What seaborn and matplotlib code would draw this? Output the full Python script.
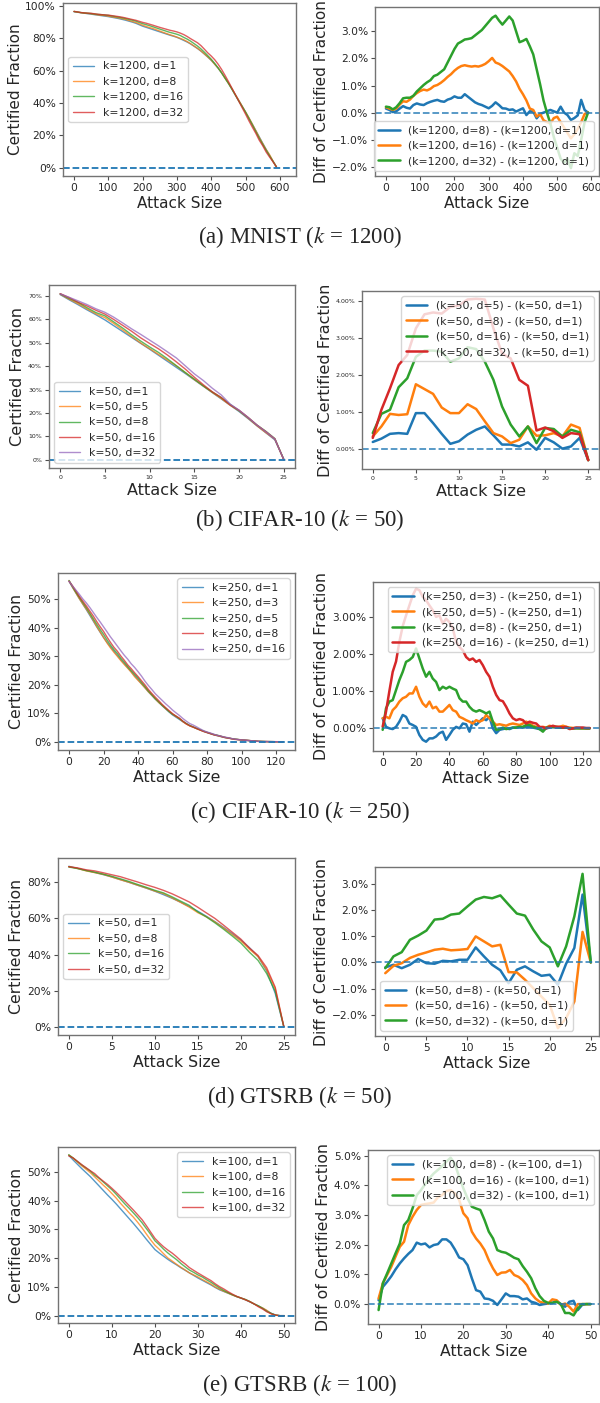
import matplotlib
matplotlib.use("Agg")
import matplotlib.pyplot as plt
from matplotlib.ticker import PercentFormatter, MultipleLocator
import numpy as np
import pandas as pd
import seaborn as sns

# values in percent
# (a) MNIST, k=1200
mnist_x = list(range(0, 600, 10))
mnist_d1 = [96.3, 96.0, 95.7, 95.4, 95.1, 94.8, 94.5, 94.2, 93.9, 93.6,
            93.3, 92.9, 92.5, 92.1, 91.6, 91.1, 90.5, 89.9, 89.2, 88.3,
            87.4, 86.7, 86.0, 85.3, 84.6, 83.9, 83.2, 82.5, 81.8, 81.2,
            80.5, 79.6, 78.6, 77.6, 76.4, 75.0, 73.6, 72.0, 70.2, 68.3,
            66.3, 64.0, 61.5, 58.6, 55.5, 52.2, 48.8, 45.2, 41.6, 38.0,
            34.4, 30.6, 26.8, 22.9, 19.0, 15.1, 11.3, 7.6, 4.0, 0.5]
mnist_diff8 = [0.15, 0.1, 0.02, 0.05, 0.15, 0.24, 0.18, 0.15, 0.28, 0.34,
               0.3, 0.28, 0.35, 0.4, 0.44, 0.47, 0.42, 0.4, 0.48, 0.52,
               0.6, 0.55, 0.55, 0.68, 0.58, 0.48, 0.38, 0.32, 0.28, 0.22,
               0.16, 0.25, 0.38, 0.28, 0.16, 0.15, 0.1, 0.12, 0.04, 0.1,
               0.16, -0.09, 0.05, 0.04, -0.21, -0.05, 0.0, 0.05, 0.1, 0.05,
               0.0, 0.22, 0.0, -0.09, -0.27, -0.2, -0.1, 0.47, 0.1, 0.0]
mnist_diff16 = [0.2, 0.15, 0.1, 0.15, 0.3, 0.42, 0.4, 0.48, 0.62, 0.72,
                0.8, 0.85, 0.82, 0.88, 0.98, 1.02, 1.1, 1.2, 1.32, 1.42,
                1.55, 1.65, 1.72, 1.75, 1.72, 1.7, 1.72, 1.7, 1.74, 1.8,
                1.9, 2.02, 1.85, 1.8, 1.72, 1.62, 1.52, 1.35, 1.15, 0.88,
                0.68, 0.45, 0.15, 0.1, -0.15, -0.05, -0.28, -0.35, -0.4, -0.2,
                -0.15, -0.35, -0.55, -0.75, -0.95, -0.8, -0.6, -0.35, -0.05, 0.0]
mnist_diff32 = [0.22, 0.2, 0.12, 0.2, 0.35, 0.53, 0.55, 0.55, 0.62, 0.78,
                0.9, 1.02, 1.12, 1.2, 1.35, 1.4, 1.5, 1.6, 1.85, 2.1,
                2.35, 2.55, 2.62, 2.7, 2.72, 2.75, 2.85, 2.95, 3.05, 3.2,
                3.35, 3.5, 3.58, 3.4, 3.25, 3.4, 3.55, 3.4, 3.0, 2.6,
                2.65, 2.72, 2.45, 2.15, 1.6, 1.05, 0.45, 0.0, -0.4, -0.9,
                -1.3, -1.7, -1.85, -1.7, -2.05, -1.5, -1.6, -1.0, -0.35, 0.0]

# (b) CIFAR-10, k=50
c50_x = list(range(0, 26))
c50_d1 = [70.5, 68.3, 66.2, 64.0, 61.9, 59.7, 57.2, 54.7, 52.2, 49.7,
          47.2, 44.6, 42.0, 39.4, 36.8, 34.1, 31.4, 28.7, 26.0, 23.3,
          20.6, 17.6, 14.5, 11.5, 8.5, 0.31]
c50_diff5 = [0.18, 0.27, 0.4, 0.42, 0.4, 0.96, 0.96, 0.69, 0.4, 0.13,
             0.2, 0.38, 0.51, 0.6, 0.36, 0.11, 0.11, 0.06, 0.17, -0.03,
             0.29, 0.17, 0.0, 0.06, 0.29, -0.31]
c50_diff8 = [0.33, 0.6, 0.94, 0.91, 0.93, 1.74, 1.61, 1.48, 1.11, 0.96,
             0.96, 1.2, 1.07, 0.74, 0.42, 0.33, 0.15, 0.24, 0.6, 0.35,
             0.36, 0.42, 0.33, 0.65, 0.56, -0.31]
c50_diff16 = [0.42, 0.94, 1.05, 1.66, 1.9, 2.48, 2.65, 2.65, 2.62, 2.35,
              2.44, 2.74, 2.69, 2.35, 1.86, 1.14, 0.65, 0.33, 0.6, 0.15,
              0.56, 0.53, 0.33, 0.51, 0.44, -0.31]
c50_diff32 = [0.29, 1.05, 1.63, 2.26, 2.53, 3.25, 3.63, 3.68, 3.65, 3.83,
              3.87, 4.03, 4.05, 4.03, 3.25, 2.57, 2.44, 1.86, 1.7, 0.49,
              0.57, 0.47, 0.29, 0.42, 0.39, -0.31]

# (c) CIFAR-10, k=250
c250_x = list(range(0, 125, 2))
c250_d1 = [56.2, 54.1, 52.1, 50.1, 48.2, 46.3, 44.3, 42.3, 40.3, 38.4,
           36.5, 34.8, 33.2, 31.7, 30.2, 28.7, 27.3, 25.9, 24.5, 23.1,
           21.7, 20.3, 18.9, 17.5, 16.2, 14.9, 13.8, 12.6, 11.5, 10.4,
           9.4, 8.6, 7.8, 7.0, 6.3, 5.6, 5.1, 4.6, 4.1, 3.6,
           3.2, 2.8, 2.4, 2.1, 1.8, 1.5, 1.3, 1.1, 0.9, 0.75,
           0.6, 0.5, 0.4, 0.3, 0.2, 0.1, 0.08, 0.05, 0.03, 0.02,
           0.0, 0.0, 0.0]
c250_diff3 = [0.27, 0.04, 0.0, -0.02, 0.04, 0.18, 0.36, 0.31, 0.13, 0.09,
              0.04, -0.18, -0.31, -0.36, -0.27, -0.27, -0.22, -0.13, -0.09, -0.31,
              -0.18, -0.04, 0.04, 0.0, 0.13, 0.11, -0.09, 0.18, 0.09, 0.18,
              0.27, 0.22, 0.31, 0.0, -0.13, -0.04, -0.02, 0.0, -0.02, 0.02,
              0.02, 0.04, 0.02, 0.03, 0.04, 0.02, 0.0, -0.02, -0.05, 0.0,
              0.02, 0.03, 0.02, 0.02, 0.02, 0.02, 0.0, 0.0, 0.01, 0.01,
              0.01, 0.0, 0.0]
c250_diff5 = [0.27, 0.31, 0.27, 0.49, 0.58, 0.72, 0.81, 0.85, 0.94, 0.94,
              1.12, 0.85, 0.67, 0.58, 0.72, 0.54, 0.58, 0.45, 0.45, 0.54,
              0.63, 0.49, 0.45, 0.31, 0.27, 0.22, 0.18, 0.13, 0.22, 0.18,
              0.22, 0.36, 0.27, 0.18, 0.09, 0.11, 0.09, 0.07, 0.11, 0.13,
              0.11, 0.09, 0.13, 0.18, 0.13, 0.07, 0.04, 0.02, 0.04, 0.02,
              0.07, 0.04, 0.04, 0.04, 0.07, 0.04, 0.02, 0.01, 0.01, 0.0,
              0.0, 0.0, 0.0]
c250_diff8 = [-0.04, 0.54, 0.72, 0.76, 1.03, 1.3, 1.52, 1.79, 1.84, 1.92,
              2.15, 1.88, 1.61, 1.39, 1.52, 1.34, 1.25, 1.03, 1.12, 1.07,
              1.12, 1.07, 1.03, 0.81, 0.72, 0.72, 0.58, 0.49, 0.45, 0.49,
              0.45, 0.4, 0.45, 0.18, -0.04, -0.02, 0.02, -0.02, 0.0, 0.02,
              0.02, 0.04, 0.04, 0.09, 0.09, 0.04, 0.02, -0.02, -0.09, 0.02,
              0.04, 0.04, 0.04, 0.02, 0.02, 0.02, 0.0, 0.0, 0.0, 0.0,
              0.0, 0.0, 0.0]
c250_diff16 = [0.05, 0.45, 1.0, 1.52, 1.8, 2.33, 2.75, 3.04, 3.31, 3.58,
               3.76, 3.72, 3.54, 3.45, 3.31, 3.18, 3.0, 3.04, 2.82, 2.95,
               2.86, 2.69, 2.33, 2.19, 2.1, 1.92, 1.84, 1.88, 1.79, 1.84,
               1.7, 1.52, 1.39, 1.12, 0.9, 0.76, 0.73, 0.58, 0.4, 0.27,
               0.22, 0.25, 0.22, 0.13, 0.18, 0.15, 0.13, 0.04, 0.03, 0.0,
               0.04, 0.07, 0.04, 0.04, 0.02, 0.04, -0.02, 0.0, 0.02, 0.02,
               0.02, 0.01, 0.01]

# (d) GTSRB, k=50
g50_x = list(range(0, 26))
g50_d1 = [88.9, 87.8, 86.6, 85.5, 84.3, 83.0, 81.5, 80.0, 78.4, 76.8,
          75.1, 73.2, 71.2, 69.0, 66.6, 64.0, 61.2, 58.2, 55.0, 51.6,
          48.0, 43.8, 38.9, 31.0, 18.5, 0.0]
g50_diff8 = [-0.19, -0.09, -0.22, -0.09, 0.13, -0.03, -0.05, 0.06, 0.04, 0.1,
             0.1, 0.57, 0.23, -0.09, -0.3, -0.79, -0.28, -0.15, -0.34, -0.51,
             -0.47, -0.85, -0.05, 0.55, 2.58, 0.0]
g50_diff16 = [-0.41, -0.13, -0.03, 0.17, 0.29, 0.38, 0.48, 0.52, 0.46, 0.48,
              0.51, 0.99, 0.8, 0.61, 0.67, -0.37, -0.38, -0.66, -0.98, -1.3,
              -1.61, -2.5, -2.12, -1.49, 1.16, 0.0]
g50_diff32 = [-0.22, 0.23, 0.39, 0.86, 1.02, 1.21, 1.63, 1.66, 1.82, 1.86,
              2.13, 2.39, 2.49, 2.44, 2.55, 2.2, 1.86, 1.78, 1.25, 0.8,
              0.57, -0.15, 0.61, 1.75, 3.37, 0.0]

# (e) GTSRB, k=100
g100_x = list(range(0, 51))
g100_d1 = [55.8, 54.2, 52.7, 51.2, 49.8, 48.4, 46.8, 45.2, 43.6, 42.0,
           40.5, 38.9, 37.2, 35.5, 33.8, 32.1, 30.3, 28.5, 26.6, 24.8,
           23.0, 21.8, 20.7, 19.6, 18.6, 17.7, 16.7, 15.8, 14.9, 14.0,
           13.1, 12.3, 11.5, 10.7, 9.8, 9.0, 8.4, 7.8, 7.2, 6.6,
           6.1, 5.5, 4.8, 4.1, 3.4, 2.6, 1.7, 0.8, 0.2, 0.0,
           0.0]
g100_diff8 = [0.13, 0.58, 0.75, 0.94, 1.17, 1.37, 1.54, 1.69, 1.82, 2.07,
              2.01, 2.04, 1.91, 1.99, 2.02, 2.18, 2.18, 2.07, 1.84, 1.57,
              1.51, 1.31, 0.87, 0.47, 0.42, 0.19, 0.17, 0.11, -0.03, 0.16,
              0.36, 0.27, 0.27, 0.25, 0.16, 0.19, 0.08, 0.04, -0.03, 0.0,
              0.02, 0.04, 0.11, 0.0, -0.09, 0.08, 0.11, -0.2, -0.03, 0.0,
              0.0]
g100_diff16 = [0.19, 0.7, 0.98, 1.26, 1.6, 1.93, 2.1, 2.66, 2.94, 3.17,
               3.34, 3.37, 3.39, 3.42, 3.6, 3.67, 3.81, 3.84, 3.73, 3.51,
               3.06, 2.89, 2.44, 2.21, 2.04, 1.82, 1.48, 1.2, 0.98, 1.06,
               1.07, 1.15, 0.98, 0.92, 0.81, 0.64, 0.36, 0.19, 0.08, 0.04,
               0.02, 0.16, 0.13, -0.03, 0.02, -0.09, -0.25, 0.0, 0.0, 0.0,
               0.0]
g100_diff32 = [-0.2, 0.7, 1.03, 1.37, 1.71, 2.04, 2.66, 2.83, 3.22, 3.67,
               3.84, 4.04, 4.24, 4.4, 4.52, 4.65, 4.8, 4.93, 4.72, 4.29,
               3.9, 3.56, 3.28, 3.22, 3.17, 2.83, 2.44, 2.21, 1.82, 1.76,
               1.73, 1.65, 1.56, 1.51, 1.28, 1.09, 0.87, 0.53, 0.27, 0.11,
               0.04, 0.04, 0.08, 0.0, -0.3, -0.3, -0.38, -0.15, 0.0, 0.0,
               0.0]

sns.set_theme(style="ticks")
plt.rcParams["font.family"] = ["DejaVu Sans"]
plt.rcParams["mathtext.fontset"] = "stix"
plt.rcParams["axes.edgecolor"] = "0.45"
plt.rcParams["legend.framealpha"] = 0.8
plt.rcParams["legend.edgecolor"] = "0.8"
colors = sns.color_palette("tab10")

W, H = 600, 1403
fig = plt.figure(figsize=(W / 100, H / 100), dpi=100)


def box(l, t, r, b):
    return [l / W, 1 - b / H, (r - l) / W, (b - t) / H]


panels = [
    dict(x=mnist_x, base=mnist_d1, diffs=[mnist_diff8, mnist_diff16, mnist_diff32],
         k=1200, ds=[1, 8, 16, 32], cap=r"(a) MNIST ($k$ = 1200)", cap_y=237,
         lbox=(63, 3, 296, 176), rbox=(375, 7, 599, 176),
         lxlim=(-32, 647), lylim=(-5.1, 101.7), rxlim=(-32, 622), rylim=(-2.34, 3.9),
         lstep=20, rstep=1, rdec=1, xstep=100, lloc="center left", rloc="lower right",
         tick=7.7, lab=11),
    dict(x=c50_x, base=c50_d1, diffs=[c50_diff5, c50_diff8, c50_diff16, c50_diff32],
         k=50, ds=[1, 5, 8, 16, 32], cap=r"(b) CIFAR-10 ($k$ = 50)", cap_y=520,
         lbox=(49, 285, 295, 468), rbox=(362, 291, 599, 469),
         lxlim=(-1.25, 26.25), lylim=(-3.5, 74.6), rxlim=(-1.25, 26.25), rylim=(-0.55, 4.26),
         lstep=10, rstep=1, rdec=2, xstep=5, lloc="lower left", rloc="upper right",
         tick=4.5, lab=11.6),
    dict(x=c250_x, base=c250_d1, diffs=[c250_diff3, c250_diff5, c250_diff8, c250_diff16],
         k=250, ds=[1, 3, 5, 8, 16], cap=r"(c) CIFAR-10 ($k$ = 250)", cap_y=812,
         lbox=(58, 573, 295, 750), rbox=(373, 582, 599, 751),
         lxlim=(-6.4, 131), lylim=(-2.9, 59.1), rxlim=(-5.8, 129.6), rylim=(-0.61, 3.94),
         lstep=10, rstep=1, rdec=2, xstep=20, lloc="upper right", rloc="upper right",
         tick=7.7, lab=11.3),
    dict(x=g50_x, base=g50_d1, diffs=[g50_diff8, g50_diff16, g50_diff32],
         k=50, ds=[1, 8, 16, 32], cap=r"(d) GTSRB ($k$ = 50)", cap_y=1097,
         lbox=(58, 858, 295, 1035), rbox=(375, 867, 599, 1036),
         lxlim=(-1.25, 26.3), lylim=(-4.6, 93.5), rxlim=(-1.25, 26.0), rylim=(-2.8, 3.63),
         lstep=20, rstep=1, rdec=1, xstep=5, lloc="center left", rloc="lower left",
         tick=7.7, lab=11.3),
    dict(x=g100_x, base=g100_d1, diffs=[g100_diff8, g100_diff16, g100_diff32],
         k=100, ds=[1, 8, 16, 32], cap=r"(e) GTSRB ($k$ = 100)", cap_y=1385,
         lbox=(58, 1147, 295, 1323), rbox=(368, 1150, 599, 1324),
         lxlim=(-2.5, 52.5), lylim=(-2.55, 58.7), rxlim=(-2.5, 52.0), rylim=(-0.67, 5.19),
         lstep=10, rstep=1, rdec=1, xstep=10, lloc="upper right", rloc="upper right",
         tick=7.7, lab=11.3),
]

for p in panels:
    x = np.array(p["x"])
    base = np.array(p["base"])
    k = p["k"]
    axl = fig.add_axes(box(*p["lbox"]))
    axr = fig.add_axes(box(*p["rbox"]))

    # left: certified fraction for every d (d=1 plus the read differences)
    curves = [base] + [base + np.array(d) for d in p["diffs"]]
    for i, (d, yv) in enumerate(zip(p["ds"], curves)):
        sns.lineplot(x=x, y=yv, ax=axl, color=colors[i], lw=1.0, alpha=0.75,
                     label=f"k={k}, d={d}")
    axl.axhline(0, ls="--", color=colors[0], lw=1.3)
    axl.set_xlim(*p["lxlim"])
    axl.set_ylim(*p["lylim"])
    axl.yaxis.set_major_locator(MultipleLocator(p["lstep"]))
    axl.yaxis.set_major_formatter(PercentFormatter(100, decimals=0))
    axl.xaxis.set_major_locator(MultipleLocator(p["xstep"]))
    axl.set_xlabel("Attack Size", fontsize=p["lab"], labelpad=2)
    axl.set_ylabel("Certified Fraction", fontsize=p["lab"], labelpad=2)
    axl.legend(loc=p["lloc"], fontsize=7.8)

    # right: differences against d=1
    for i, (d, yv) in enumerate(zip(p["ds"][1:], p["diffs"])):
        sns.lineplot(x=x, y=np.array(yv), ax=axr, color=colors[i], lw=1.8,
                     label=f"(k={k}, d={d}) - (k={k}, d=1)")
    axr.axhline(0, ls="--", color=colors[0], lw=1.3, alpha=0.8)
    axr.set_xlim(*p["rxlim"])
    axr.set_ylim(*p["rylim"])
    axr.yaxis.set_major_locator(MultipleLocator(p["rstep"]))
    axr.yaxis.set_major_formatter(PercentFormatter(100, decimals=p["rdec"]))
    axr.xaxis.set_major_locator(MultipleLocator(p["xstep"]))
    axr.set_xlabel("Attack Size", fontsize=p["lab"], labelpad=2)
    axr.set_ylabel("Diff of Certified Fraction", fontsize=p["lab"], labelpad=2)
    axr.legend(loc=p["rloc"], fontsize=7.8)

    for ax in (axl, axr):
        ax.tick_params(labelsize=p["tick"], length=3, width=0.8, color="0.3", pad=2)
        for s in ax.spines.values():
            s.set_linewidth(1.0)

    fig.text(0.5, 1 - p["cap_y"] / H, p["cap"], ha="center", va="center",
             fontsize=16.5, family="Liberation Serif")

fig.savefig("out.png", dpi=100)
